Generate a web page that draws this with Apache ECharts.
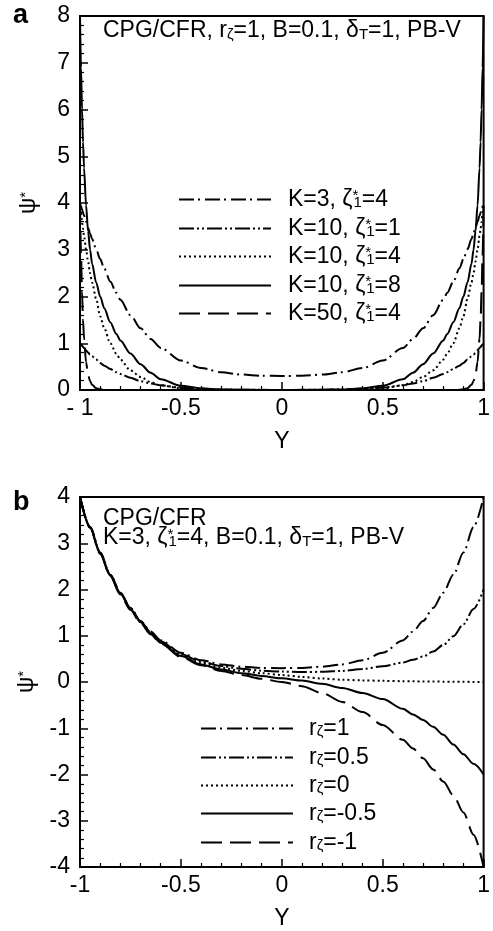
<!DOCTYPE html>
<html>
<head>
<meta charset="utf-8">
<script src="https://cdn.jsdelivr.net/npm/echarts@6/dist/echarts.min.js"></script>
<style>html,body{margin:0;padding:0;background:#fff}#c{width:493px;height:931px}</style>
</head>
<body>
<div id="c"></div>
<script>
// ---------- Panel a data ----------
const yA = [-1,-0.995,-0.99,-0.985,-0.98,-0.97,-0.96,-0.95,-0.94,-0.92,-0.9,-0.88,-0.85,-0.82,-0.8,-0.75,-0.7,-0.65,-0.6,-0.5,-0.4,-0.3,-0.2,-0.1,0,
            0.1,0.2,0.3,0.4,0.5,0.6,0.65,0.7,0.75,0.8,0.82,0.85,0.88,0.9,0.92,0.94,0.95,0.96,0.97,0.98,0.985,0.99,0.995,1];
const psiK3z4 = [4.0,3.93,3.86,3.79,3.73,3.6,3.47,3.35,3.23,3.01,2.8,2.6,2.32,2.08,1.93,1.6,1.32,1.09,0.9,0.63,0.47,0.38,0.33,0.305,0.3,
            0.305,0.33,0.38,0.47,0.63,0.9,1.09,1.32,1.6,1.93,2.08,2.32,2.6,2.8,3.01,3.23,3.35,3.47,3.6,3.73,3.79,3.86,3.93,4.0];
const psiK10z1 = [1.0,0.97,0.95,0.92,0.9,0.85,0.8,0.76,0.72,0.65,0.58,0.52,0.45,0.38,0.34,0.26,0.19,0.14,0.1,0.05,0.025,0.012,0.006,0.003,0.002,
            0.003,0.006,0.012,0.025,0.05,0.1,0.14,0.19,0.26,0.34,0.38,0.45,0.52,0.58,0.65,0.72,0.76,0.8,0.85,0.9,0.92,0.95,0.97,1.0];
const psiK10z4 = [4.0,3.8,3.6,3.45,3.3,3.0,2.75,2.5,2.3,1.95,1.58,1.32,1.0,0.78,0.65,0.42,0.28,0.17,0.1,0.035,0.012,0.004,0.001,0,0,
            0,0.001,0.004,0.012,0.035,0.1,0.17,0.28,0.42,0.65,0.78,1.0,1.32,1.58,1.95,2.3,2.5,2.75,3.0,3.3,3.45,3.6,3.8,4.0];
const psiK10z8 = [8.0,6.9,6.0,5.3,4.75,3.95,3.4,3.0,2.7,2.3,2.0,1.75,1.45,1.2,1.06,0.78,0.55,0.37,0.23,0.09,0.035,0.013,0.005,0.002,0.001,
            0.002,0.005,0.013,0.035,0.09,0.23,0.37,0.55,0.78,1.06,1.2,1.45,1.75,2.0,2.3,2.7,3.0,3.4,3.95,4.75,5.3,6.0,6.9,8.0];
const psiK50z4 = [4.0,2.9,2.1,1.5,1.1,0.6,0.33,0.19,0.11,0.04,0.015,0.005,0,0,0,0,0,0,0,0,0,0,0,0,0,
            0,0,0,0,0,0,0,0,0,0,0,0,0.005,0.015,0.04,0.11,0.19,0.33,0.6,1.1,1.5,2.1,2.9,4.0];

// ---------- Panel b data ----------
const yB = [-1,-0.95,-0.9,-0.85,-0.8,-0.75,-0.7,-0.65,-0.6,-0.5,-0.4,-0.3,-0.2,-0.1,0,0.1,0.2,0.3,0.4,0.5,0.6,0.65,0.7,0.75,0.8,0.85,0.9,0.95,1];
const psiR1   = [4.0,3.35,2.8,2.32,1.93,1.6,1.32,1.09,0.9,0.63,0.47,0.38,0.33,0.305,0.3,0.305,0.33,0.38,0.47,0.63,0.9,1.09,1.32,1.6,1.93,2.32,2.8,3.35,4.0];
const psiR05  = [4.0,3.35,2.8,2.32,1.93,1.6,1.31,1.08,0.88,0.6,0.44,0.345,0.285,0.245,0.225,0.215,0.22,0.24,0.28,0.34,0.42,0.48,0.55,0.66,0.8,0.99,1.25,1.58,2.0];
const psiR0   = [4.0,3.34,2.79,2.31,1.92,1.59,1.3,1.06,0.86,0.58,0.41,0.31,0.24,0.19,0.15,0.11,0.075,0.05,0.035,0.025,0.018,0.015,0.012,0.01,0.008,0.006,0.004,0.002,0];
const psiRm05 = [4.0,3.34,2.78,2.3,1.91,1.58,1.29,1.05,0.85,0.56,0.38,0.27,0.19,0.13,0.08,0.03,-0.04,-0.13,-0.24,-0.37,-0.58,-0.7,-0.82,-0.97,-1.14,-1.35,-1.56,-1.77,-2.0];
const psiRm1  = [4.0,3.33,2.77,2.29,1.89,1.56,1.27,1.03,0.83,0.54,0.36,0.24,0.15,0.07,0.0,-0.09,-0.24,-0.43,-0.65,-0.93,-1.25,-1.44,-1.65,-1.89,-2.15,-2.45,-2.82,-3.3,-4.0];

// ---------- Tick labels ----------
const xTicksA = ['- 1','-0.5','0','0.5','1'];
const xTicksB = ['-1','-0.5','0','0.5','1'];
const yTicksA = ['0','1','2','3','4','5','6','7','8'];
const yTicksB = ['-4','-3','-2','-1','0','1','2','3','4'];

const F = 'Liberation Sans, Arial, Helvetica, sans-serif';
const FS = 23;
const R = {
  m: {fontSize: FS, fontFamily: F, lineHeight: 22, color: '#000'},
  s: {fontSize: 15, fontFamily: F, lineHeight: 6, verticalAlign: 'bottom', color: '#000'},
  p: {fontSize: 15, fontFamily: F, lineHeight: 12, verticalAlign: 'top', width: 1, color: '#000'},
  q: {fontSize: 15, fontFamily: F, lineHeight: 12, verticalAlign: 'top', color: '#000'},
  g: {fontSize: 10, width: 12}
};
const legendText = {
  'K=3, ζ1*=4':  '{m|K=3, ζ}{p|*}{s|1}{m|=4}',
  'K=10, ζ1*=1': '{m|K=10, ζ}{p|*}{s|1}{m|=1}',
  'K=10, ζ1*=4': '{m|K=10, ζ}{p|*}{s|1}{m|=4}',
  'K=10, ζ1*=8': '{m|K=10, ζ}{p|*}{s|1}{m|=8}',
  'K=50, ζ1*=4': '{m|K=50, ζ}{p|*}{s|1}{m|=4}',
  'rζ=1':   '{m|r}{s|ζ}{m|=1}',
  'rζ=0.5': '{m|r}{s|ζ}{m|=0.5}',
  'rζ=0':   '{m|r}{s|ζ}{m|=0}',
  'rζ=-0.5':'{m|r}{s|ζ}{m|=-0.5}',
  'rζ=-1':  '{m|r}{s|ζ}{m|=-1}'
};

const DASHDOT = [15,4,2,5];
const DASHDOTDOT = [15,3,2,3,2,3];
const DOT = [2,3];
const DASH = [21,8];

function zip(xs, ys){ return xs.map((x,i)=>[x, ys[i]]); }
function ln(name, xi, xs, ys, type){
  return {name, type:'line', xAxisIndex:xi, yAxisIndex:xi, data: zip(xs, ys), symbol:'none', showSymbol:false,
    smooth:0.3, smoothMonotone:'x', silent:true, animation:false,
    itemStyle:{color:'#000', opacity:0},
    lineStyle:{color:'#000', width:2, type}};
}
function xAxisCfg(gi, labels){
  return {gridIndex:gi, type:'value', min:-1, max:1, interval:0.5,
    axisLine:{show:true, onZero:false, lineStyle:{color:'#000', width:2}},
    axisTick:{inside:true, length:8, lineStyle:{color:'#000', width:1.5}},
    minorTick:{show:true, splitNumber:5, length:4, lineStyle:{color:'#000', width:1.2}},
    splitLine:{show:false}, minorSplitLine:{show:false},
    axisLabel:{fontSize:FS, fontFamily:F, color:'#000', margin:7, showMinLabel:true, showMaxLabel:true, hideOverlap:false,
      formatter:(v)=>labels[Math.round((v+1)/0.5)]},
    name:'Y', nameLocation:'middle', nameGap:40, nameTextStyle:{fontSize:FS, fontFamily:F, color:'#000'}};
}
function yAxisCfg(gi, min, max, labels){
  return {gridIndex:gi, type:'value', min, max, interval:1,
    axisLine:{show:true, onZero:false, lineStyle:{color:'#000', width:2}},
    axisTick:{inside:true, length:8, lineStyle:{color:'#000', width:1.5}},
    minorTick:{show:true, splitNumber:5, length:4, lineStyle:{color:'#000', width:1.2}},
    splitLine:{show:false}, minorSplitLine:{show:false},
    axisLabel:{fontSize:FS, fontFamily:F, color:'#000', margin:10, showMinLabel:true, showMaxLabel:true, hideOverlap:false,
      formatter:(v)=>labels[Math.round(v-min)]},
    name:'{m|ψ}{q|*}', nameLocation:'middle', nameGap:40, nameRotate:90,
    nameTextStyle:{rich:R, fontSize:FS, fontFamily:F, color:'#000'}};
}
function legendItem(name, left, cy, gap){
  return {data:[name], left, top:cy-11, orient:'vertical', padding:0, itemWidth:92, itemHeight:22,
    selectedMode:false, itemStyle:{opacity:0, borderWidth:0},
    formatter:(n)=>'{g| }'+legendText[n],
    textStyle:{rich:Object.assign({}, R, {g:{fontSize:10, width:gap}}), fontSize:FS, fontFamily:F, color:'#000'}};
}

const namesA = ['K=3, ζ1*=4','K=10, ζ1*=1','K=10, ζ1*=4','K=10, ζ1*=8','K=50, ζ1*=4'];
const namesB = ['rζ=1','rζ=0.5','rζ=0','rζ=-0.5','rζ=-1'];
const rowsA = [199,228,256,285,313];
const rowsB = [728,757,785,813,842];

const legends = [];
namesA.forEach((n,i)=>legends.push(legendItem(n,178,rowsA[i],12)));
namesB.forEach((n,i)=>legends.push(legendItem(n,200,rowsB[i],11)));

const chart = echarts.init(document.getElementById('c'), null, {renderer:'canvas'});
chart.setOption({
  animation:false,
  backgroundColor:'#fff',
  color:['#000'],
  grid:[
    {left:80, top:16, width:411, height:374, show:true, borderColor:'#000', borderWidth:2, backgroundColor:'transparent'},
    {left:80, top:497, width:411, height:375, show:true, borderColor:'#000', borderWidth:2, backgroundColor:'transparent'}
  ],
  xAxis:[xAxisCfg(0, xTicksA), xAxisCfg(1, xTicksB)],
  yAxis:[yAxisCfg(0, 0, 8, yTicksA), yAxisCfg(1, -4, 4, yTicksB)],
  legend: legends,
  series:[
    ln(namesA[0],0,yA,psiK3z4,DASHDOT),
    ln(namesA[1],0,yA,psiK10z1,DASHDOTDOT),
    ln(namesA[2],0,yA,psiK10z4,DOT),
    ln(namesA[3],0,yA,psiK10z8,'solid'),
    ln(namesA[4],0,yA,psiK50z4,DASH),
    ln(namesB[0],1,yB,psiR1,DASHDOT),
    ln(namesB[1],1,yB,psiR05,DASHDOTDOT),
    ln(namesB[2],1,yB,psiR0,DOT),
    ln(namesB[3],1,yB,psiRm05,'solid'),
    ln(namesB[4],1,yB,psiRm1,DASH)
  ],
  graphic:[
    {type:'text', x:13, y:16, style:{text:'a', font:'bold 27px '+F, fill:'#000', verticalAlign:'middle'}},
    {type:'text', x:13, y:503, style:{text:'b', font:'bold 27px '+F, fill:'#000', verticalAlign:'middle'}},
    {type:'text', x:103, y:31, style:{text:'{m|CPG/CFR, r}{s|ζ}{m|=1, B=0.1, δ}{s|T}{m|=1, PB-V}', rich:R, verticalAlign:'middle', align:'left'}},
    {type:'text', x:103, y:519, style:{text:'{m|CPG/CFR}', rich:R, verticalAlign:'middle', align:'left'}},
    {type:'text', x:103, y:538, style:{text:'{m|K=3, ζ}{p|*}{s|1}{m|=4, B=0.1, δ}{s|T}{m|=1, PB-V}', rich:R, verticalAlign:'middle', align:'left'}}
  ]
});
</script>
</body>
</html>
